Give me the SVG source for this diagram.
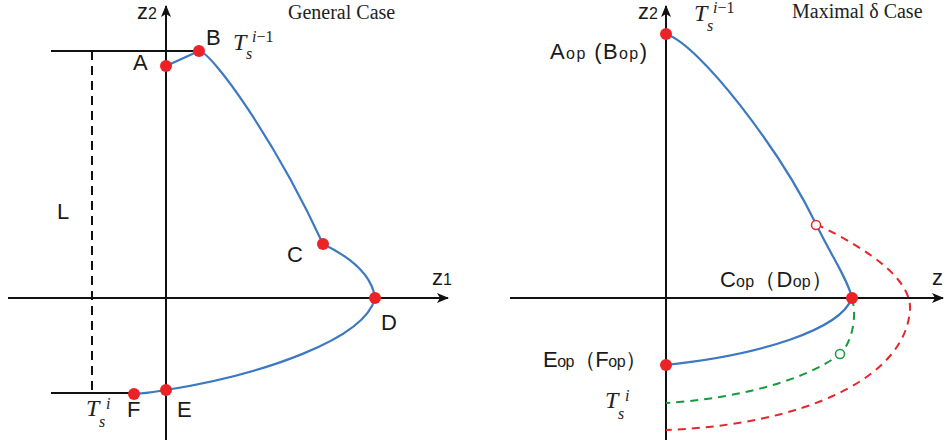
<svg xmlns="http://www.w3.org/2000/svg" width="944" height="441" viewBox="0 0 944 441">
<style>
.ax{stroke:#111;stroke-width:2;fill:none}
.cv{stroke:#3d78c2;stroke-width:2.2;fill:none}
.rd{stroke:#e8262a;stroke-width:2;fill:none;stroke-dasharray:8 6}
.gd{stroke:#139a3c;stroke-width:2;fill:none;stroke-dasharray:8 6}
.dot{fill:#ec2326}
.lb{font-family:"Liberation Sans",Arial,sans-serif;font-size:22px;fill:#1a1a1a}
.sm{font-size:16px}
.ti{font-family:"Liberation Serif","Times New Roman",serif;font-size:20px;fill:#222}
.m{font-family:"Liberation Serif","Times New Roman",serif;font-style:italic;fill:#222}
.T{font-size:24px}
.s{font-size:16px}
</style>
<defs>
<marker id="arr" markerWidth="12" markerHeight="10" refX="11" refY="5" orient="auto" markerUnits="userSpaceOnUse">
<path d="M0,0 L12,5 L0,10 L3,5 Z" fill="#111"/>
</marker>
</defs>
<rect width="944" height="441" fill="#fff"/>

<g id="axes-left">
<line class="ax" x1="166" y1="440" x2="166" y2="6" marker-end="url(#arr)"/>
<line class="ax" x1="8" y1="298" x2="448" y2="298" marker-end="url(#arr)"/>
<line class="ax" x1="51" y1="51" x2="199" y2="51"/>
<line class="ax" x1="51" y1="393" x2="134" y2="393"/>
<line class="ax" x1="92" y1="51" x2="92" y2="393" stroke-dasharray="9 6"/>
</g>

<g id="axes-right">
<line class="ax" x1="666" y1="440" x2="666" y2="6" marker-end="url(#arr)"/>
<line class="ax" x1="510" y1="298" x2="943" y2="298" marker-end="url(#arr)"/>
</g>

<g id="connectors">
<path class="cv" d="M166,66 L199,51"/>
<path class="cv" d="M199,51 C212,52 275,140 323,244"/>
<path class="cv" d="M323,244 C352,258 372,275 375,298"/>
<path class="cv" d="M375,298 C365,340 260,375 166,390 Q150,393 134,394"/>
<path class="cv" d="M666,34 C700,45 780,150 816,224 C832,257 848,280 852,298"/>
<path class="cv" d="M852,298 C840,330 760,355 666,365"/>
<path class="rd" d="M816,224 C870,250 912,280 910,310 C905,380 800,425 666,430"/>
<path class="gd" d="M852,298 C858,320 850,345 840,354 C800,385 720,400 666,403"/>
</g>

<g id="node-A"><circle class="dot" cx="166" cy="66" r="6"/><text class="lb" x="133" y="70">A</text></g>
<g id="node-B"><circle class="dot" cx="199" cy="51" r="6"/><text class="lb" x="206" y="45">B</text></g>
<g id="node-C"><circle class="dot" cx="323" cy="244" r="6"/><text class="lb" x="287" y="262">C</text></g>
<g id="node-D"><circle class="dot" cx="375" cy="298" r="6"/><text class="lb" x="381" y="330">D</text></g>
<g id="node-E"><circle class="dot" cx="166" cy="390" r="6"/><text class="lb" x="177" y="417">E</text></g>
<g id="node-F"><circle class="dot" cx="134" cy="394" r="6"/><text class="lb" x="127" y="417">F</text></g>

<g id="labels-left">
<text class="lb" x="137" y="19">z<tspan class="sm">2</tspan></text>
<text class="lb" x="432" y="285">z<tspan class="sm">1</tspan></text>
<text class="lb" x="57" y="219">L</text>
<text class="ti" x="288" y="19">General Case</text>
<text class="m T" x="233" y="50">T</text>
<text class="m s" x="246" y="59">s</text>
<text class="m s" x="252" y="42">i<tspan font-style="normal">−1</tspan></text>
<text class="m T" x="86" y="416">T</text>
<text class="m s" x="99" y="427">s</text>
<text class="m s" x="106" y="409">i</text>
</g>

<g id="node-Aop"><circle class="dot" cx="666" cy="34" r="6"/><text class="lb" x="550" y="59" textLength="97" lengthAdjust="spacing">A<tspan class="sm">op</tspan> (B<tspan class="sm">op</tspan>)</text></g>
<g id="node-Cop"><circle class="dot" cx="852" cy="298" r="6"/><text class="lb" x="720" y="287" textLength="113" lengthAdjust="spacing">C<tspan class="sm">op</tspan>（D<tspan class="sm">op</tspan>）</text></g>
<g id="node-Eop"><circle class="dot" cx="666" cy="365" r="6"/><text class="lb" x="543" y="367" textLength="104" lengthAdjust="spacing">E<tspan class="sm">op</tspan>（F<tspan class="sm">op</tspan>）</text></g>
<g id="node-open-red"><circle cx="816" cy="225" r="4.5" fill="#fff" stroke="#e8262a" stroke-width="1.5"/></g>
<g id="node-open-green"><circle cx="840" cy="354" r="4.5" fill="#fff" stroke="#139a3c" stroke-width="1.5"/></g>

<g id="labels-right">
<text class="lb" x="638" y="19">z<tspan class="sm">2</tspan></text>
<text class="lb" x="932" y="285">z</text>
<text class="ti" x="792" y="18">Maximal δ Case</text>
<text class="m T" x="694" y="21">T</text>
<text class="m s" x="707" y="31">s</text>
<text class="m s" x="713" y="13">i<tspan font-style="normal">−1</tspan></text>
<text class="m T" x="605" y="408">T</text>
<text class="m s" x="618" y="419">s</text>
<text class="m s" x="625" y="401">i</text>
</g>
</svg>
